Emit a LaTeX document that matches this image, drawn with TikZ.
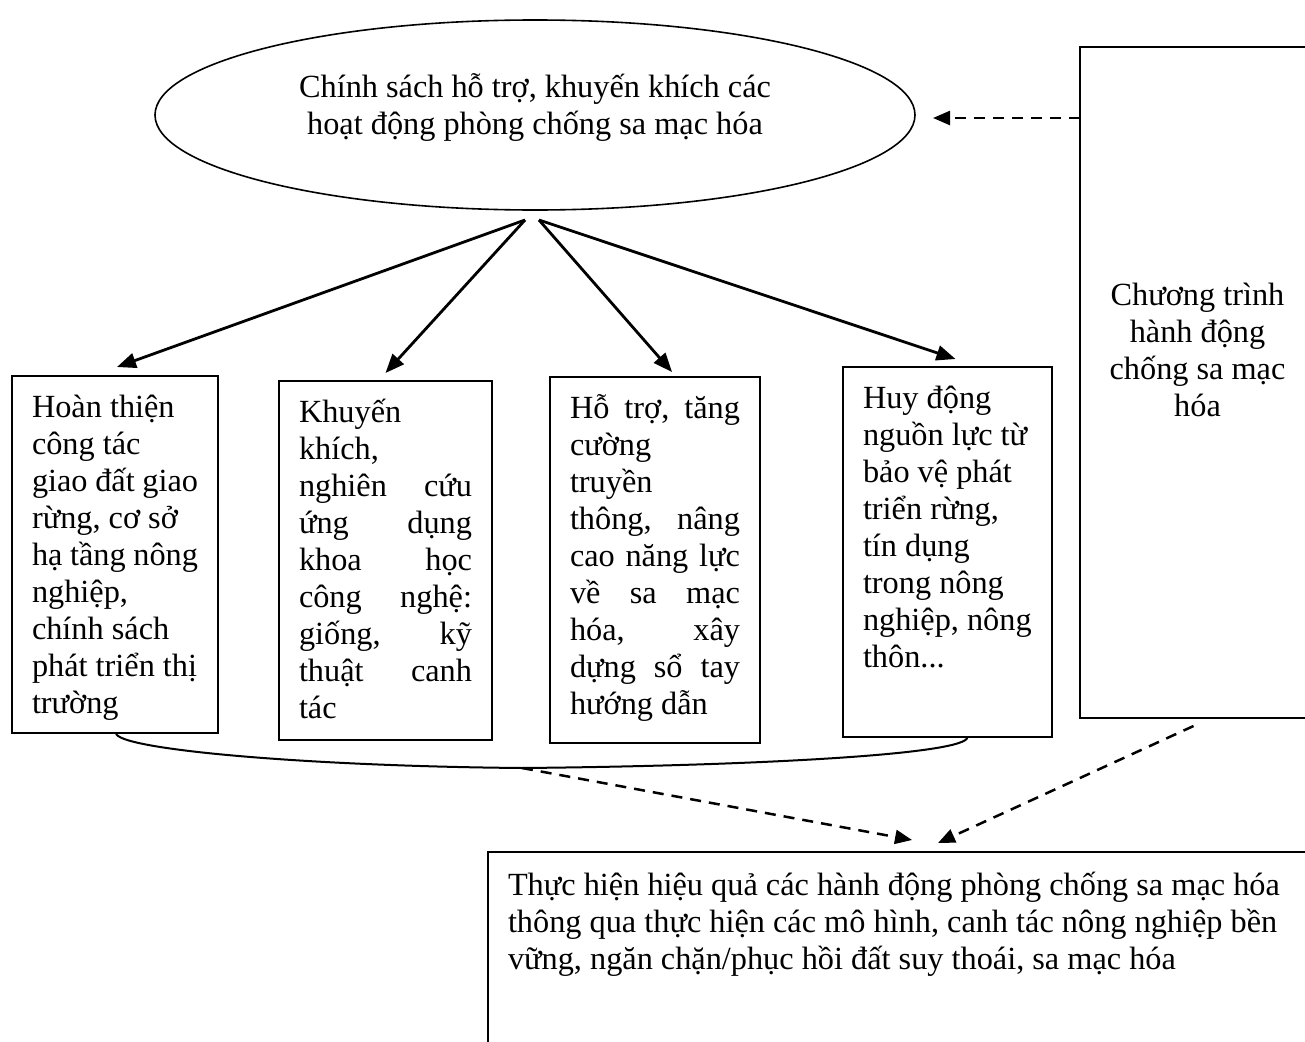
\documentclass[tikz,border=0pt]{standalone}
\usepackage{fontspec}
\setmainfont{Liberation Serif}
\usetikzlibrary{shapes.geometric,arrows.meta}
\newcommand{\bodyfont}{\fontsize{32.3}{37}\selectfont}
% width, height, first baseline, text
\newcommand{\cellbox}[5][\relax]{\parbox[c][#3pt][t]{#2pt}{#1\rule{0pt}{#4pt}#5}}

\begin{document}
\begin{tikzpicture}[x=1pt,y=-1pt,
  every node/.style={font=\bodyfont, outer sep=0pt},
  card/.style={draw, line width=1.9pt, anchor=north west, inner xsep=20pt, inner ysep=0pt},
  arr/.style={line width=2.8pt, -{Triangle[length=19pt,width=15pt]}},
  dasharr/.style={line width=2.5pt, dash pattern=on 11pt off 8pt, -{Triangle[length=17pt,width=14pt]}}]
 \useasboundingbox (0,0) rectangle (1305,1041);

 \node[ellipse, draw, line width=1.6pt, minimum width=760pt, minimum height=190pt, inner sep=0pt] (pol) at (535,115)
   {\cellbox[\centering]{520}{120}{42}{Chính sách hỗ trợ, khuyến khích các\\ hoạt động phòng chống sa mạc hóa}};

 \node[card] (b1) at (12,376) {\cellbox{166}{357}{41}{Hoàn~thiện\\ công~tác\\ giao~đất~giao\\ rừng,~cơ~sở\\ hạ~tầng~nông\\ nghiệp,\\ chính~sách\\ phát~triển~thị\\ trường}};
 \node[card] (b2) at (279,381) {\cellbox{173}{359}{41}{Khuyến\\ khích,\\ nghiên\hfill cứu\\ ứng\hfill dụng\\ khoa\hfill học\\ công\hfill nghệ:\\ giống,\hfill kỹ\\ thuật\hfill canh\\ tác}};
 \node[card] (b3) at (550,377) {\cellbox{170}{366}{41}{Hỗ\hfill trợ,\hfill tăng\\ cường\\ truyền\\ thông,\hfill nâng\\ cao\hfill năng\hfill lực\\ về\hfill sa\hfill mạc\\ hóa,\hfill xây\\ dựng\hfill sổ\hfill tay\\ hướng~dẫn}};
 \node[card] (b4) at (843,367) {\cellbox{169}{370}{41}{Huy~động\\ nguồn~lực~từ\\ bảo~vệ~phát\\ triển~rừng,\\ tín~dụng\\ trong~nông\\ nghiệp,~nông\\ thôn...}};

 \node[card] (rb) at (1080,47) {\cellbox[\centering]{195}{671}{258}{Chương~trình\\ hành~động\\ chống~sa~mạc\\ hóa}};
 \node[card] (bb) at (488,852) {\cellbox{790}{220}{43}{Thực hiện hiệu quả các hành động phòng chống sa mạc hóa\\ thông qua thực hiện các mô hình, canh tác nông nghiệp bền\\ vững, ngăn chặn/phục hồi đất suy thoái, sa mạc hóa}};

 \coordinate (o1) at ([shift={(-10,10)}]pol.south);
 \coordinate (o2) at ([shift={(4,10)}]pol.south);
 \draw[arr] (o1) -- ([shift={(2,-9)}]b1.north);
 \draw[arr] (o1) -- ([shift={(0,-8)}]b2.north);
 \draw[arr] (o2) -- ([shift={(17,-5)}]b3.north);
 \draw[arr] (o2) -- ([shift={(8,-8)}]b4.north);

 % the four groups joined underneath
 \coordinate (bend) at (522,768);
 \draw[line width=2pt] ([xshift=1pt]b1.south) .. controls +(0,16) and (300,766) .. (bend)
   .. controls (744,766) and ([shift={(20,18)}]b4.south) .. ([xshift=20pt]b4.south);

 \coordinate (ein) at ([shift={(18,3)}]pol.east);
 \draw[dasharr] (rb.west |- ein) -- (ein);
 \draw[dasharr] (bend) -- ([shift={(424,-12)}]bb.north west);
 \draw[dasharr] ([shift={(-4,8)}]rb.south) -- ([shift={(450,-9)}]bb.north west);

\end{tikzpicture}
\end{document}
